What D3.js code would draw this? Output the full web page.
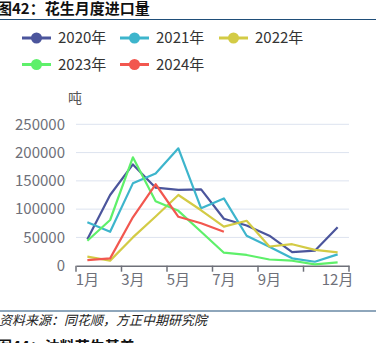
<!DOCTYPE html>
<html>
<head>
<meta charset="utf-8">
<script src="https://cdn.jsdelivr.net/npm/d3@7/dist/d3.min.js"></script>
<style>
  html, body { margin: 0; padding: 0; background: #fff; }
  svg { display: block; font-family: "Noto Sans CJK SC", "Noto Sans", sans-serif; }
</style>
</head>
<body>
<svg id="chart" width="386" height="343"></svg>
<script>
// Monthly peanut import volume (tonnes), by year
const months = ["1月","2月","3月","4月","5月","6月","7月","8月","9月","10月","11月","12月"];
const labelMonths = ["1月","3月","5月","7月","9月","12月"];
const yTicks = [0, 50000, 100000, 150000, 200000, 250000];

const seriesNames = ["2020年","2021年","2022年","2023年","2024年"];
const seriesColors = ["#4b559c","#3db5cc","#d3cb45","#5ef06a","#f2574f"];

const v2020 = [46700,125000,179000,138000,134000,135000,83000,71000,53000,24000,26500,68000];
const v2021 = [76700,60000,145600,163000,207500,101500,119000,53000,33600,13000,7000,20000];
const v2022 = [16000,9000,50000,87000,125000,98000,69000,79500,34000,38000,28000,23700];
const v2023 = [44200,80800,191600,114000,97000,60000,23000,19000,11000,8800,2400,6000];
const v2024 = [10000,13000,85500,144000,86500,75000,60000];

const seriesValues = [v2020, v2021, v2022, v2023, v2024];

const svg = d3.select("#chart");

// Title and rules
svg.append("text")
  .attr("x", -3).attr("y", 14)
  .attr("font-size", 15).attr("font-weight", "bold").attr("fill", "#111")
  .text("图42：花生月度进口量");
svg.append("line")
  .attr("x1", 0).attr("x2", 376).attr("y1", 19.5).attr("y2", 19.5)
  .attr("stroke", "#1f4e79").attr("stroke-width", 1.2);

// Legend
const legendPos = [[22, 38], [120, 38], [219, 38], [22, 64.5], [120, 64.5]];
seriesNames.forEach((name, i) => {
  const [lx, ly] = legendPos[i];
  const g = svg.append("g").attr("transform", `translate(${lx},${ly})`);
  g.append("line").attr("x1", 0).attr("x2", 29).attr("y1", 0).attr("y2", 0)
    .attr("stroke", seriesColors[i]).attr("stroke-width", 3);
  g.append("circle").attr("cx", 14.5).attr("cy", 0).attr("r", 5.5)
    .attr("fill", seriesColors[i]);
  g.append("text").attr("x", 36).attr("y", 0).attr("dy", "0.35em")
    .attr("font-size", 15).attr("fill", "#333").text(name);
});

// Scales
const x = d3.scaleBand().domain(months).range([76, 349]);
const y = d3.scaleLinear().domain([0, 250000]).range([265.7, 124.3]);
const cx = m => x(m) + x.bandwidth() / 2;

// Unit label
svg.append("text").attr("x", 75).attr("y", 98.5).attr("dy", "0.35em")
  .attr("text-anchor", "middle").attr("font-size", 14).attr("fill", "#555").text("吨");

// Gridlines
svg.append("g").selectAll("line").data(yTicks.filter(d => d > 0)).join("line")
  .attr("x1", 76).attr("x2", 349)
  .attr("y1", d => y(d)).attr("y2", d => y(d))
  .attr("stroke", "#dde3ef").attr("stroke-width", 1);

// Y axis labels
const yAxis = svg.append("g").attr("transform", "translate(76,0)")
  .call(d3.axisLeft(y).tickValues(yTicks).tickSize(0).tickPadding(11).tickFormat(d3.format("d")));
yAxis.select(".domain").remove();
yAxis.selectAll("text").attr("font-size", 15).attr("fill", "#6e7079")
  .attr("font-family", "\"Noto Sans CJK SC\", sans-serif");

// X axis
const xAxis = svg.append("g").attr("transform", `translate(0,${y(0)})`)
  .call(d3.axisBottom(x).tickValues(labelMonths).tickSize(0).tickPadding(9));
xAxis.select(".domain").attr("stroke", "#6e7079").attr("stroke-width", 1.5);
xAxis.selectAll("text").attr("font-size", 15).attr("fill", "#6e7079")
  .attr("font-family", "\"Noto Sans CJK SC\", sans-serif");
const tickIdx = [0, 2, 4, 6, 8, 10, 12];
svg.append("g").selectAll("line").data(tickIdx).join("line")
  .attr("x1", i => i < 12 ? x(months[i]) : x.range()[1])
  .attr("x2", i => i < 12 ? x(months[i]) : x.range()[1])
  .attr("y1", y(0)).attr("y2", y(0) + 6)
  .attr("stroke", "#6e7079").attr("stroke-width", 1.5);

// Lines
const line = d3.line().x((d, i) => cx(months[i])).y(d => y(d));
seriesValues.forEach((vals, i) => {
  svg.append("path").datum(vals)
    .attr("d", line)
    .attr("fill", "none")
    .attr("stroke", seriesColors[i])
    .attr("stroke-width", 2.2)
    .attr("stroke-linejoin", "round");
});

// Footer
svg.append("line")
  .attr("x1", 0).attr("x2", 376).attr("y1", 311).attr("y2", 311)
  .attr("stroke", "#1f4e79").attr("stroke-width", 1.2);
svg.append("text").attr("x", -1).attr("y", 325)
  .attr("font-size", 13).attr("font-style", "italic").attr("fill", "#222")
  .text("资料来源：同花顺，方正中期研究院");
svg.append("text").attr("x", -3).attr("y", 352)
  .attr("font-size", 15).attr("font-weight", "bold").attr("fill", "#111")
  .text("图44：油料花生基差");
</script>
</body>
</html>
